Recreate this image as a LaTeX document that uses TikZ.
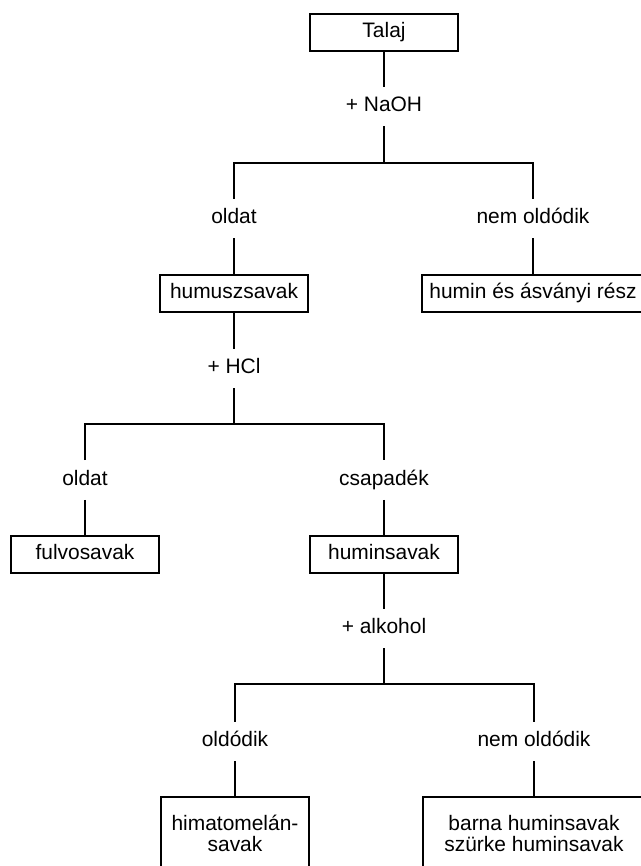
\documentclass[tikz,border=0pt]{standalone}
\usepackage{fontspec}
\setmainfont{Liberation Sans}
\begin{document}
\begin{tikzpicture}[x=0.75pt,y=-0.75pt,
  every node/.style={font=\fontsize{15.7}{15.75}\selectfont},
  conn/.style={line width=1.5pt,black},
  boxn/.style={draw,line width=1.5pt,minimum width=111pt,minimum height=27.75pt,inner sep=0pt,text height=11.3pt,text depth=3.3pt},
  wideboxn/.style={boxn,minimum width=180pt},
  tallbox/.style={draw,line width=1.5pt,minimum width=111pt,minimum height=54.75pt,inner sep=0pt,align=center},
  tallwide/.style={tallbox,minimum width=180pt},
  lbl/.style={inner sep=0pt,minimum height=29.25pt,text height=11.3pt,text depth=3.3pt}]
\useasboundingbox (0,0) rectangle (641,866);
\clip (0,0) rectangle (641,866);
% boxes
\node[boxn] (talaj) at (384,32.5) {Talaj};
\node[boxn] (humusz) at (234,293.5) {humuszsavak};
\node[wideboxn] (humin) at (542,293.5) {};
\node at (533,293.5) [inner sep=0pt,text height=11.3pt,text depth=3.3pt] (humintxt) {humin és ásványi rész};
\node[boxn] (fulvo) at (85,554.5) {fulvosavak};
\node[boxn] (huminsav) at (384,554.5) {huminsavak};
\node[tallbox] (himato) at (235,833.5) {himatomelán-\\savak};
\node[tallwide] (barna) at (543,833.5) {};
\node at (534,833.5) [align=center,inner sep=0pt] (barnatxt) {barna huminsavak\\szürke huminsavak};
% labels
\node[lbl] (naoh) at (384,106.5) {+ NaOH};
\node[lbl] (oldat1) at (234,218.5) {oldat};
\node[lbl] (nem1) at (533,218.5) {nem oldódik};
\node[lbl] (hcl) at (234,368.5) {+ HCl};
\node[lbl] (oldat2) at (85,480) {oldat};
\node[lbl] (csap) at (384,480) {csapadék};
\node[lbl] (alk) at (384,628.5) {+ alkohol};
\node[lbl] (oldodik) at (235,741.5) {oldódik};
\node[lbl] (nem2) at (534,741.5) {nem oldódik};
% junctions
\coordinate (j1) at (384,163);
\coordinate (j2) at (234,424);
\coordinate (j3) at (384,684);
% connectors
\draw[conn] (talaj.south) -- (naoh.north);
\draw[conn] (naoh.south) -- (j1);
\draw[conn] (oldat1.north) |- (j1) -| (nem1.north);
\draw[conn] (oldat1.south) -- (humusz.north);
\draw[conn] (nem1.south) -- (nem1.south |- humin.north);
\draw[conn] (humusz.south) -- (hcl.north);
\draw[conn] (hcl.south) -- (j2);
\draw[conn] (oldat2.north) |- (j2) -| (csap.north);
\draw[conn] (oldat2.south) -- (fulvo.north);
\draw[conn] (csap.south) -- (huminsav.north);
\draw[conn] (huminsav.south) -- (alk.north);
\draw[conn] (alk.south) -- (j3);
\draw[conn] (oldodik.north) |- (j3) -| (nem2.north);
\draw[conn] (oldodik.south) -- (himato.north);
\draw[conn] (nem2.south) -- (nem2.south |- barna.north);
\end{tikzpicture}
\end{document}
